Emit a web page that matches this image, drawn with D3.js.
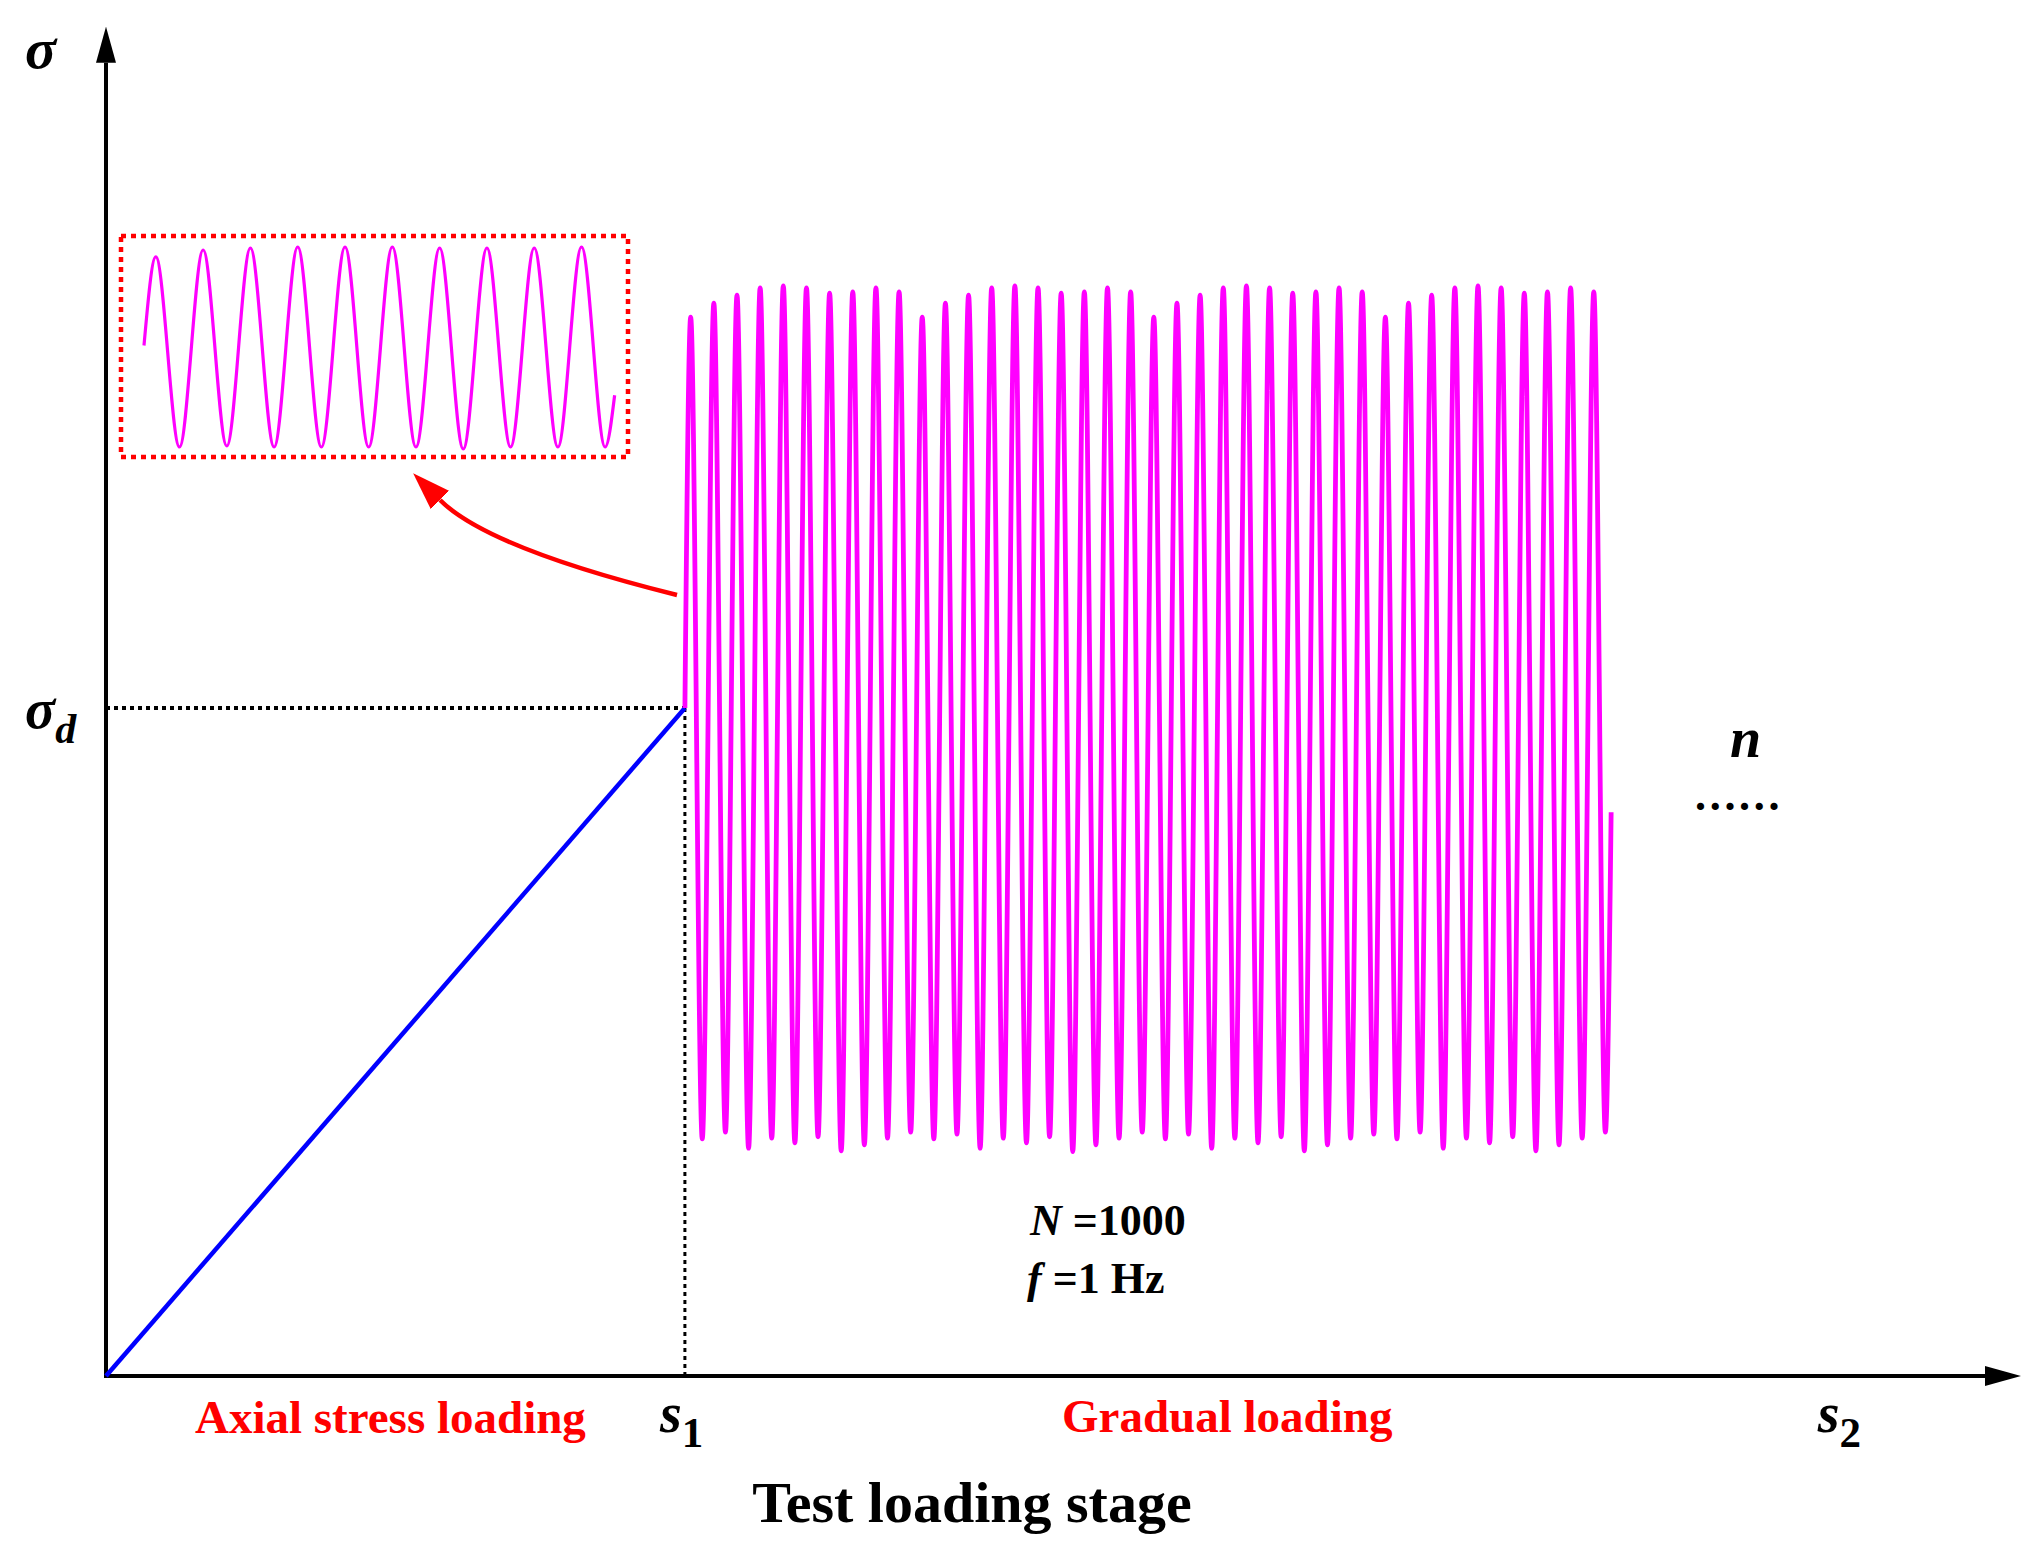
<!DOCTYPE html>
<html>
<head>
<meta charset="utf-8">
<script src="https://cdn.jsdelivr.net/npm/d3@7"></script>
<style>
body { margin: 0; background: #fff; }
text { font-family: "Liberation Serif", "Times New Roman", serif; }
</style>
</head>
<body>
<svg width="2037" height="1555"></svg>
<script>
// loading stage in seconds (f = 1 Hz), stress with sigma_d = 100
const sigmaD = 100
const s1 = 25
const s2 = 75
const freq = 1
const axisEnd = { t: 82.7, v: 202 }
const endStress = 84.4
const peaks = [158.5, 160.6, 161.8, 162.9, 163.2, 162.9, 162.1, 162.3, 162.9, 162.3,
    158.5, 160.6, 161.8, 162.9, 163.2, 162.9, 162.1, 162.3, 162.9, 162.3,
    158.5, 160.6, 161.8, 162.9, 163.2, 162.9, 162.1, 162.3, 162.9, 162.3,
    158.5, 160.6, 161.8, 162.9, 163.2, 162.9, 162.1, 162.3, 162.9, 162.3]
const troughs = [35.5, 36.5, 34.1, 35.6, 34.9, 35.8, 33.7, 34.6, 35.6, 36.5,
    35.5, 36.2, 34.1, 35.6, 34.9, 35.8, 33.6, 34.6, 35.6, 36.5,
    35.5, 36.2, 34.1, 35.6, 34.9, 35.8, 33.7, 34.6, 35.6, 36.2,
    35.5, 36.5, 34.1, 35.6, 34.9, 35.8, 33.7, 34.6, 35.6, 36.5]
// zoomed view of the first ten cycles
const insetStart = 51
const insetPeaks = [95.5, 99, 100, 100.5, 100.5, 100.5, 100, 100, 100, 100.5]
const insetTroughs = [0, 0.5, 0, 0, 0, 0, -1, 0, 0, 0]
const insetEnd = 26

const svg = d3.select('svg')
const x = d3.scaleLinear().domain([0, axisEnd.t]).range([106, 2021])
const y = d3.scaleLinear().domain([0, sigmaD]).range([1376, 708])
const xi = d3.scaleLinear().domain([0, 10]).range([144, 617])
const yi = d3.scaleLinear().domain([0, 100]).range([447, 248])

svg.append('rect').attr('width', 2037).attr('height', 1555).attr('fill', '#fff')

const defs = svg.append('defs')
defs.append('marker')
    .attr('id', 'axisHead')
    .attr('markerUnits', 'userSpaceOnUse')
    .attr('markerWidth', 36).attr('markerHeight', 20)
    .attr('refX', 0).attr('refY', 10)
    .attr('orient', 'auto')
    .append('path').attr('d', 'M0,0L36,10L0,20Z').attr('fill', '#000')
defs.append('marker')
    .attr('id', 'redHead')
    .attr('markerUnits', 'userSpaceOnUse')
    .attr('markerWidth', 38).attr('markerHeight', 26)
    .attr('refX', 0).attr('refY', 13)
    .attr('orient', 'auto')
    .append('path').attr('d', 'M0,0L38,13L0,26Z').attr('fill', '#f00')

// guide lines at sigma_d and s1
svg.append('line')
    .attr('x1', x(0)).attr('y1', y(sigmaD))
    .attr('x2', x(s1)).attr('y2', y(sigmaD))
    .attr('stroke', '#000').attr('stroke-width', 4).attr('stroke-dasharray', '4,4')
svg.append('line')
    .attr('x1', x(s1)).attr('y1', y(sigmaD))
    .attr('x2', x(s1)).attr('y2', y(0))
    .attr('stroke', '#000').attr('stroke-width', 3).attr('stroke-dasharray', '4,4')

// axes
svg.append('line')
    .attr('x1', x(0)).attr('y1', y(0) + 2)
    .attr('x2', x(0)).attr('y2', y(axisEnd.v) + 36)
    .attr('stroke', '#000').attr('stroke-width', 4)
    .attr('marker-end', 'url(#axisHead)')
svg.append('line')
    .attr('x1', x(0) - 2).attr('y1', y(0))
    .attr('x2', x(axisEnd.t) - 36).attr('y2', y(0))
    .attr('stroke', '#000').attr('stroke-width', 4)
    .attr('marker-end', 'url(#axisHead)')

// axial stress ramp
svg.append('path')
    .datum([{ t: 0, v: 0 }, { t: s1, v: sigmaD }])
    .attr('d', d3.line().x(d => x(d.t)).y(d => y(d.v)))
    .attr('stroke', '#0000ff').attr('stroke-width', 4.5).attr('fill', 'none')

// cyclic loading
const cycles = [{ t: s1, v: sigmaD }]
peaks.forEach((p, i) => {
    cycles.push({ t: s1 + (i + 0.25) / freq, v: p })
    cycles.push({ t: s1 + (i + 0.75) / freq, v: troughs[i] })
})
cycles.push({ t: s1 + peaks.length / freq, v: endStress })

svg.append('path')
    .datum(cycles)
    .attr('d', d3.line().x(d => x(d.t)).y(d => y(d.v)).curve(d3.curveMonotoneX))
    .attr('stroke', '#ff00ff').attr('stroke-width', 4.8).attr('fill', 'none')

// inset
const insetPts = [{ t: 0, v: insetStart }]
insetPeaks.forEach((p, i) => {
    insetPts.push({ t: i + 0.25, v: p })
    insetPts.push({ t: i + 0.75, v: insetTroughs[i] })
})
insetPts.push({ t: 9.95, v: insetEnd })

svg.append('rect')
    .attr('x', 121).attr('y', 236).attr('width', 507).attr('height', 221)
    .attr('fill', 'none').attr('stroke', '#f00').attr('stroke-width', 4.5)
    .attr('stroke-dasharray', '5,5')
svg.append('path')
    .datum(insetPts)
    .attr('d', d3.line().x(d => xi(d.t)).y(d => yi(d.v)).curve(d3.curveMonotoneX))
    .attr('stroke', '#ff00ff').attr('stroke-width', 3.2).attr('fill', 'none')

const arc = d3.path()
arc.moveTo(677, 595)
arc.quadraticCurveTo(488, 548, 440, 500)
svg.append('path')
    .attr('d', arc.toString())
    .attr('stroke', '#f00').attr('stroke-width', 4.5).attr('fill', 'none')
    .attr('marker-end', 'url(#redHead)')

// labels
svg.append('text')
    .attr('x', 25).attr('y', 68)
    .attr('font-size', 58).attr('font-weight', 'bold').attr('font-style', 'italic')
    .text('σ')

const sigD = svg.append('text')
    .attr('x', 25).attr('y', 728)
    .attr('font-size', 56).attr('font-weight', 'bold').attr('font-style', 'italic')
sigD.append('tspan').text('σ')
sigD.append('tspan').attr('font-size', 42).attr('dy', 15).text('d')

const sLabel = (t, sub) => {
    const lab = svg.append('text')
        .attr('x', x(t) - 25).attr('y', 1432)
        .attr('font-size', 56).attr('font-weight', 'bold')
    lab.append('tspan').attr('font-style', 'italic').text('s')
    lab.append('tspan').attr('font-size', 43).attr('dy', 15).text(sub)
}
sLabel(s1, '1')
sLabel(s2, '2')

svg.append('text')
    .attr('x', 195).attr('y', 1433)
    .attr('font-size', 47).attr('font-weight', 'bold').attr('fill', '#f00')
    .text('Axial stress loading')
svg.append('text')
    .attr('x', 1062).attr('y', 1432)
    .attr('font-size', 47).attr('font-weight', 'bold').attr('fill', '#f00')
    .text('Gradual loading')
svg.append('text')
    .attr('x', 972).attr('y', 1522)
    .attr('text-anchor', 'middle')
    .attr('font-size', 58).attr('font-weight', 'bold')
    .text('Test loading stage')

const nLab = svg.append('text')
    .attr('x', 1030).attr('y', 1235)
    .attr('font-size', 44).attr('font-weight', 'bold')
nLab.append('tspan').attr('font-style', 'italic').text('N')
nLab.append('tspan').text(' =1000')

const fLab = svg.append('text')
    .attr('x', 1027).attr('y', 1293)
    .attr('font-size', 44).attr('font-weight', 'bold')
fLab.append('tspan').attr('font-style', 'italic').text('f')
fLab.append('tspan').text(' =1 Hz')

svg.append('text')
    .attr('x', 1730).attr('y', 757)
    .attr('font-size', 56).attr('font-weight', 'bold').attr('font-style', 'italic')
    .text('n')
svg.append('text')
    .attr('x', 1695).attr('y', 810)
    .attr('font-size', 44).attr('font-weight', 'bold')
    .attr('letter-spacing', 3.7)
    .text('......')
</script>
</body>
</html>
